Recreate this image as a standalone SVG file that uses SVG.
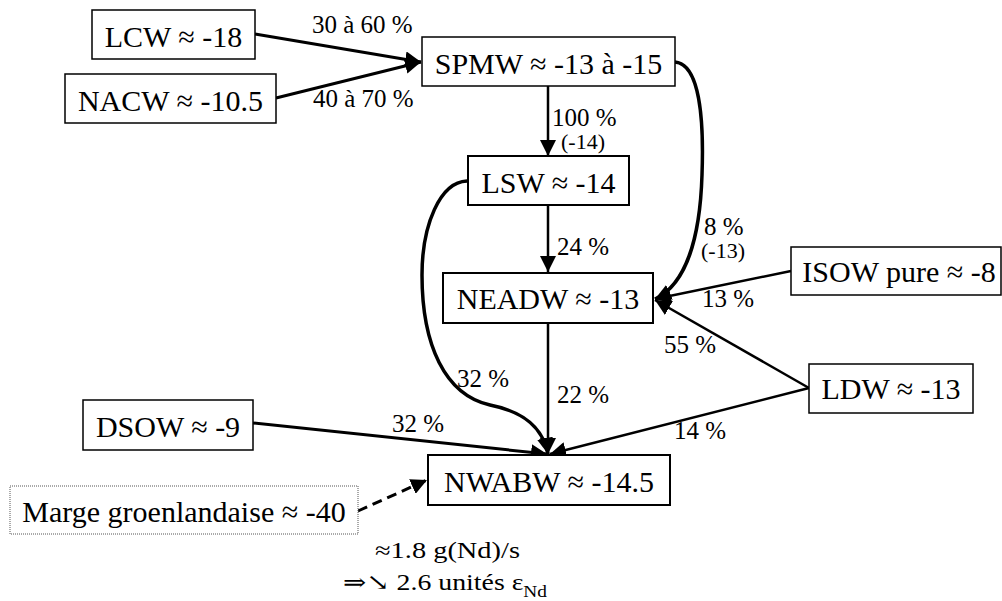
<svg xmlns="http://www.w3.org/2000/svg" width="1002" height="601" viewBox="0 0 1002 601" font-family="'Liberation Serif', 'Times New Roman', 'DejaVu Serif', serif">
<style>
.box{fill:#fff;stroke:#000;stroke-width:1.5}
.bold{stroke-width:2}
.dot{fill:#fff;stroke:#555;stroke-width:1;stroke-dasharray:1,1}
.nt{font-size:30px;fill:#000;text-anchor:middle}
.lb{font-size:25px;fill:#000}
.sm{font-size:22px}
.ln{fill:none;stroke:#000;stroke-width:3}
.th{stroke-width:2.5}
.cv{stroke-width:3.5}
.dash{stroke-dasharray:10,6}
</style>
<defs>
<marker id="ah" viewBox="0 0 16 16" refX="16" refY="8" markerWidth="16" markerHeight="16" markerUnits="userSpaceOnUse" orient="auto">
<path d="M0,0 L16,8 L0,16 z" fill="#000"/>
</marker>
</defs>
<rect width="1002" height="601" fill="#fff"/>
<g id="connectors">
<path class="ln" d="M255,34 L421,62" marker-end="url(#ah)"/>
<path class="ln" d="M276,98 L421,62" marker-end="url(#ah)"/>
<path class="ln th" d="M548,86 L548,156" marker-end="url(#ah)"/>
<path class="ln th" d="M548,205 L548,272" marker-end="url(#ah)"/>
<path class="ln th" d="M548,324 L548,454" marker-end="url(#ah)"/>
<path class="ln cv" d="M675,62 C700,64 704,120 702,175 C700,240 685,285 655,299" marker-end="url(#ah)"/>
<path class="ln th" d="M791,271 L655,299" marker-end="url(#ah)"/>
<path class="ln th" d="M809,388 L655,300" marker-end="url(#ah)"/>
<path class="ln th" d="M809,388 L550,454" marker-end="url(#ah)"/>
<path class="ln" d="M253,423 L547,454" marker-end="url(#ah)"/>
<path class="ln cv" d="M467,181 C440,182 422,225 422,275 C422,345 445,395 490,405 C525,412 543,428 548,454" marker-end="url(#ah)"/>
<path class="ln dash" d="M358,511 L427,480" marker-end="url(#ah)"/>
</g>
<g id="labels">
<text class="lb" x="312" y="33">30 à 60 %</text>
<text class="lb" x="313" y="107">40 à 70 %</text>
<text class="lb" x="552" y="126">100 %</text>
<text class="lb sm" x="561" y="149">(-14)</text>
<text class="lb" x="557" y="255">24 %</text>
<text class="lb" x="704" y="235">8 %</text>
<text class="lb sm" x="701" y="258">(-13)</text>
<text class="lb" x="702" y="307">13 %</text>
<text class="lb" x="664" y="353">55 %</text>
<text class="lb" x="557" y="403">22 %</text>
<text class="lb" x="674" y="439">14 %</text>
<text class="lb" x="457" y="387">32 %</text>
<text class="lb" x="392" y="432">32 %</text>
</g>
<g id="n-lcw"><rect class="box" x="92" y="10" width="163" height="49"/><text class="nt" x="173.5" y="47">LCW ≈ -18</text></g>
<g id="n-nacw"><rect class="box" x="65" y="74" width="211" height="49"/><text class="nt" x="170.5" y="111">NACW ≈ -10.5</text></g>
<g id="n-spmw"><rect class="box" x="422" y="37" width="253" height="49"/><text class="nt" x="548.5" y="74">SPMW ≈ -13 à -15</text></g>
<g id="n-lsw"><rect class="box bold" x="468" y="156" width="161" height="49"/><text class="nt" x="548.5" y="193">LSW ≈ -14</text></g>
<g id="n-neadw"><rect class="box bold" x="443" y="273" width="210" height="50"/><text class="nt" x="548" y="309">NEADW ≈ -13</text></g>
<g id="n-isow"><rect class="box" x="791" y="247" width="210" height="48"/><text class="nt" x="899" y="282">ISOW pure ≈ -8</text></g>
<g id="n-ldw"><rect class="box" x="809" y="364" width="164" height="49"/><text class="nt" x="891" y="399">LDW ≈ -13</text></g>
<g id="n-dsow"><rect class="box" x="83" y="400" width="170" height="50"/><text class="nt" x="168" y="437">DSOW ≈ -9</text></g>
<g id="n-nwabw"><rect class="box bold" x="428" y="455" width="242" height="50"/><text class="nt" x="549" y="492">NWABW ≈ -14.5</text></g>
<g id="n-marge"><rect class="dot" x="10" y="486" width="348" height="48"/><text class="nt" x="184" y="522">Marge groenlandaise ≈ -40</text></g>
<g id="note">
<text class="lb" style="font-size:23px" x="375" y="558" textLength="145" lengthAdjust="spacingAndGlyphs">≈1.8 g(Nd)/s</text>
<text class="lb" style="font-size:23px" x="343" y="590" textLength="204" lengthAdjust="spacingAndGlyphs">⇒↘ 2.6 unités ε<tspan dy="7" style="font-size:16px">Nd</tspan></text>
</g>
</svg>
